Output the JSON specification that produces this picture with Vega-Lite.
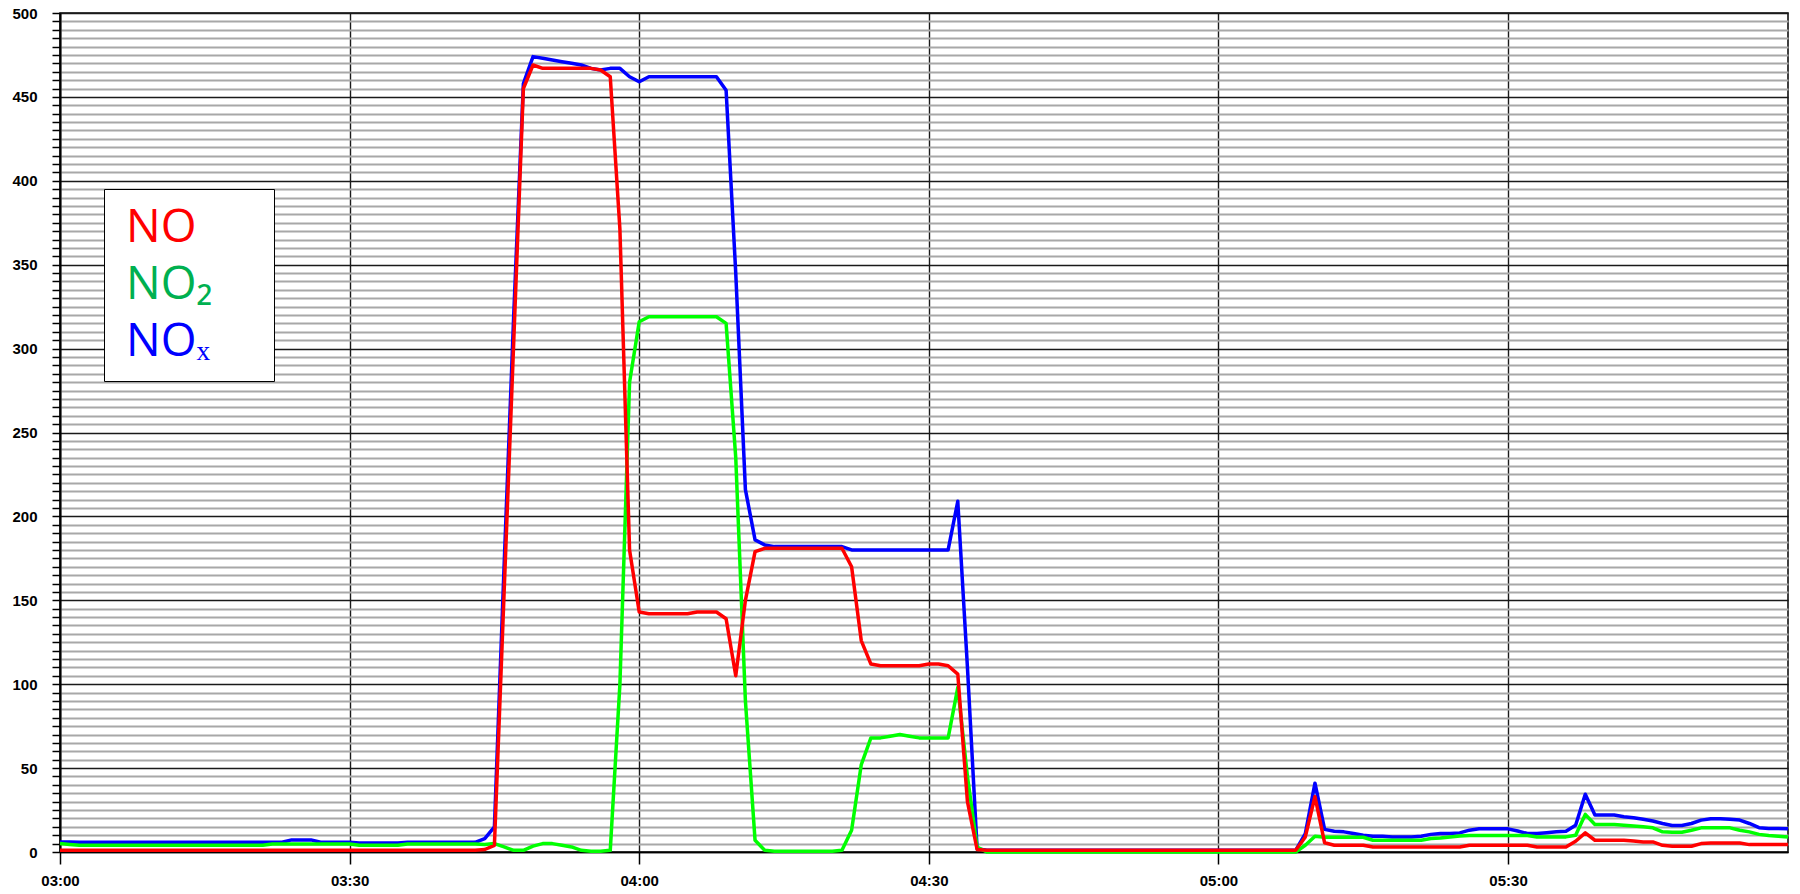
{
  "$schema": "https://vega.github.io/schema/vega-lite/v6.json",
  "width": 1728,
  "height": 839,
  "autosize": {"type": "none"},
  "padding": {"left": 60, "top": 13, "right": 12, "bottom": 42},
  "background": "#ffffff",
  "config": {"view": {"stroke": "#000000", "strokeWidth": 1.5}, "font": "Liberation Sans"},
  "data": {
    "values": [
      {"t":"03:00","NO":1,"NO2":5,"NOx":6},
      {"t":"03:01","NO":1,"NO2":4.5,"NOx":6},
      {"t":"03:02","NO":1,"NO2":4,"NOx":5.8},
      {"t":"03:03","NO":1,"NO2":4,"NOx":5.8},
      {"t":"03:04","NO":1,"NO2":4,"NOx":5.8},
      {"t":"03:05","NO":1,"NO2":4,"NOx":5.8},
      {"t":"03:06","NO":1,"NO2":4,"NOx":5.8},
      {"t":"03:07","NO":1,"NO2":4,"NOx":5.8},
      {"t":"03:08","NO":1,"NO2":4,"NOx":5.8},
      {"t":"03:09","NO":1,"NO2":4,"NOx":5.8},
      {"t":"03:10","NO":1,"NO2":4,"NOx":5.8},
      {"t":"03:11","NO":1,"NO2":4,"NOx":5.8},
      {"t":"03:12","NO":1,"NO2":4,"NOx":5.8},
      {"t":"03:13","NO":1,"NO2":4,"NOx":5.8},
      {"t":"03:14","NO":1,"NO2":4,"NOx":5.8},
      {"t":"03:15","NO":1,"NO2":4,"NOx":5.8},
      {"t":"03:16","NO":1,"NO2":4,"NOx":5.8},
      {"t":"03:17","NO":1,"NO2":4,"NOx":5.8},
      {"t":"03:18","NO":1,"NO2":4,"NOx":5.8},
      {"t":"03:19","NO":1,"NO2":4,"NOx":5.8},
      {"t":"03:20","NO":1,"NO2":4,"NOx":5.8},
      {"t":"03:21","NO":1,"NO2":4,"NOx":5.8},
      {"t":"03:22","NO":1,"NO2":4.8,"NOx":5.8},
      {"t":"03:23","NO":1,"NO2":4.8,"NOx":5.8},
      {"t":"03:24","NO":1,"NO2":4.8,"NOx":7.2},
      {"t":"03:25","NO":1,"NO2":4.8,"NOx":7.2},
      {"t":"03:26","NO":1,"NO2":4.8,"NOx":7.2},
      {"t":"03:27","NO":1,"NO2":4.8,"NOx":5.8},
      {"t":"03:28","NO":1,"NO2":4.8,"NOx":5.8},
      {"t":"03:29","NO":1,"NO2":4.8,"NOx":5.8},
      {"t":"03:30","NO":1,"NO2":4.8,"NOx":5.8},
      {"t":"03:31","NO":1,"NO2":4,"NOx":5.4},
      {"t":"03:32","NO":1,"NO2":4,"NOx":5.4},
      {"t":"03:33","NO":1,"NO2":4,"NOx":5.4},
      {"t":"03:34","NO":1,"NO2":4,"NOx":5.4},
      {"t":"03:35","NO":1,"NO2":4,"NOx":5.4},
      {"t":"03:36","NO":1,"NO2":4.8,"NOx":5.8},
      {"t":"03:37","NO":1,"NO2":4.8,"NOx":5.8},
      {"t":"03:38","NO":1,"NO2":4.8,"NOx":5.8},
      {"t":"03:39","NO":1,"NO2":4.8,"NOx":5.8},
      {"t":"03:40","NO":1,"NO2":4.8,"NOx":5.8},
      {"t":"03:41","NO":1,"NO2":4.8,"NOx":5.8},
      {"t":"03:42","NO":1,"NO2":4.8,"NOx":5.8},
      {"t":"03:43","NO":1,"NO2":4.8,"NOx":5.8},
      {"t":"03:44","NO":1.5,"NO2":4.5,"NOx":8},
      {"t":"03:45","NO":4,"NO2":5,"NOx":15},
      {"t":"03:46","NO":154,"NO2":3,"NOx":170},
      {"t":"03:47","NO":304,"NO2":1,"NOx":320},
      {"t":"03:48","NO":455,"NO2":1,"NOx":458},
      {"t":"03:49","NO":469,"NO2":3.5,"NOx":474},
      {"t":"03:50","NO":467,"NO2":5,"NOx":473},
      {"t":"03:51","NO":467,"NO2":5,"NOx":472},
      {"t":"03:52","NO":467,"NO2":4,"NOx":471},
      {"t":"03:53","NO":467,"NO2":3,"NOx":470},
      {"t":"03:54","NO":467,"NO2":1,"NOx":469},
      {"t":"03:55","NO":467,"NO2":0.5,"NOx":467},
      {"t":"03:56","NO":466,"NO2":0.5,"NOx":466},
      {"t":"03:57","NO":462,"NO2":1,"NOx":467},
      {"t":"03:58","NO":371,"NO2":100,"NOx":467},
      {"t":"03:59","NO":180,"NO2":280,"NOx":462},
      {"t":"04:00","NO":143,"NO2":316,"NOx":459},
      {"t":"04:01","NO":142,"NO2":319,"NOx":462},
      {"t":"04:02","NO":142,"NO2":319,"NOx":462},
      {"t":"04:03","NO":142,"NO2":319,"NOx":462},
      {"t":"04:04","NO":142,"NO2":319,"NOx":462},
      {"t":"04:05","NO":142,"NO2":319,"NOx":462},
      {"t":"04:06","NO":143,"NO2":319,"NOx":462},
      {"t":"04:07","NO":143,"NO2":319,"NOx":462},
      {"t":"04:08","NO":143,"NO2":319,"NOx":462},
      {"t":"04:09","NO":139,"NO2":315,"NOx":454},
      {"t":"04:10","NO":105,"NO2":235,"NOx":345},
      {"t":"04:11","NO":150,"NO2":90,"NOx":216},
      {"t":"04:12","NO":179,"NO2":7,"NOx":186},
      {"t":"04:13","NO":181,"NO2":1,"NOx":183},
      {"t":"04:14","NO":181,"NO2":0.5,"NOx":182},
      {"t":"04:15","NO":181,"NO2":0.5,"NOx":182},
      {"t":"04:16","NO":181,"NO2":0.5,"NOx":182},
      {"t":"04:17","NO":181,"NO2":0.5,"NOx":182},
      {"t":"04:18","NO":181,"NO2":0.5,"NOx":182},
      {"t":"04:19","NO":181,"NO2":0.5,"NOx":182},
      {"t":"04:20","NO":181,"NO2":0.5,"NOx":182},
      {"t":"04:21","NO":181,"NO2":1,"NOx":182},
      {"t":"04:22","NO":170,"NO2":13,"NOx":180},
      {"t":"04:23","NO":126,"NO2":52,"NOx":180},
      {"t":"04:24","NO":112,"NO2":68,"NOx":180},
      {"t":"04:25","NO":111,"NO2":68,"NOx":180},
      {"t":"04:26","NO":111,"NO2":69,"NOx":180},
      {"t":"04:27","NO":111,"NO2":70,"NOx":180},
      {"t":"04:28","NO":111,"NO2":69,"NOx":180},
      {"t":"04:29","NO":111,"NO2":68,"NOx":180},
      {"t":"04:30","NO":112,"NO2":68,"NOx":180},
      {"t":"04:31","NO":112,"NO2":68,"NOx":180},
      {"t":"04:32","NO":111,"NO2":68,"NOx":180},
      {"t":"04:33","NO":106,"NO2":98,"NOx":209},
      {"t":"04:34","NO":30,"NO2":45,"NOx":110},
      {"t":"04:35","NO":1.5,"NO2":3,"NOx":2},
      {"t":"04:36","NO":1,"NO2":0,"NOx":1},
      {"t":"04:37","NO":1,"NO2":0,"NOx":1},
      {"t":"04:38","NO":1,"NO2":0,"NOx":1},
      {"t":"04:39","NO":1,"NO2":0,"NOx":1},
      {"t":"04:40","NO":1,"NO2":0,"NOx":1},
      {"t":"04:41","NO":1,"NO2":0,"NOx":1},
      {"t":"04:42","NO":1,"NO2":0,"NOx":1},
      {"t":"04:43","NO":1,"NO2":0,"NOx":1},
      {"t":"04:44","NO":1,"NO2":0,"NOx":1},
      {"t":"04:45","NO":1,"NO2":0,"NOx":1},
      {"t":"04:46","NO":1,"NO2":0,"NOx":1},
      {"t":"04:47","NO":1,"NO2":0,"NOx":1},
      {"t":"04:48","NO":1,"NO2":0,"NOx":1},
      {"t":"04:49","NO":1,"NO2":0,"NOx":1},
      {"t":"04:50","NO":1,"NO2":0,"NOx":1},
      {"t":"04:51","NO":1,"NO2":0,"NOx":1},
      {"t":"04:52","NO":1,"NO2":0,"NOx":1},
      {"t":"04:53","NO":1,"NO2":0,"NOx":1},
      {"t":"04:54","NO":1,"NO2":0,"NOx":1},
      {"t":"04:55","NO":1,"NO2":0,"NOx":1},
      {"t":"04:56","NO":1,"NO2":0,"NOx":1},
      {"t":"04:57","NO":1,"NO2":0,"NOx":1},
      {"t":"04:58","NO":1,"NO2":0,"NOx":1},
      {"t":"04:59","NO":1,"NO2":0,"NOx":1},
      {"t":"05:00","NO":1,"NO2":0,"NOx":1},
      {"t":"05:01","NO":1,"NO2":0,"NOx":1},
      {"t":"05:02","NO":1,"NO2":0,"NOx":1},
      {"t":"05:03","NO":1,"NO2":0,"NOx":1},
      {"t":"05:04","NO":1,"NO2":0,"NOx":1},
      {"t":"05:05","NO":1,"NO2":0,"NOx":1},
      {"t":"05:06","NO":1,"NO2":0,"NOx":1},
      {"t":"05:07","NO":1,"NO2":0,"NOx":1},
      {"t":"05:08","NO":1,"NO2":0,"NOx":1},
      {"t":"05:09","NO":9,"NO2":4,"NOx":11},
      {"t":"05:10","NO":33,"NO2":9.4,"NOx":41},
      {"t":"05:11","NO":5.5,"NO2":8.8,"NOx":13.5},
      {"t":"05:12","NO":4,"NO2":8.8,"NOx":12.4},
      {"t":"05:13","NO":4,"NO2":8.8,"NOx":12},
      {"t":"05:14","NO":4,"NO2":8.8,"NOx":11},
      {"t":"05:15","NO":4,"NO2":8.8,"NOx":10},
      {"t":"05:16","NO":3,"NO2":7,"NOx":9.4},
      {"t":"05:17","NO":3,"NO2":7,"NOx":9.4},
      {"t":"05:18","NO":3,"NO2":7,"NOx":9},
      {"t":"05:19","NO":3,"NO2":7,"NOx":9},
      {"t":"05:20","NO":3,"NO2":7,"NOx":9},
      {"t":"05:21","NO":3,"NO2":7,"NOx":9.4},
      {"t":"05:22","NO":3,"NO2":8,"NOx":10.5},
      {"t":"05:23","NO":3,"NO2":8.4,"NOx":11},
      {"t":"05:24","NO":3,"NO2":9,"NOx":11},
      {"t":"05:25","NO":3,"NO2":9.5,"NOx":11.4},
      {"t":"05:26","NO":4,"NO2":9.8,"NOx":13},
      {"t":"05:27","NO":4,"NO2":9.8,"NOx":13.8},
      {"t":"05:28","NO":4,"NO2":9.8,"NOx":13.8},
      {"t":"05:29","NO":4,"NO2":9.8,"NOx":13.8},
      {"t":"05:30","NO":4,"NO2":9.8,"NOx":13.8},
      {"t":"05:31","NO":4,"NO2":9.8,"NOx":12.5},
      {"t":"05:32","NO":4,"NO2":9.8,"NOx":11},
      {"t":"05:33","NO":3,"NO2":9,"NOx":11},
      {"t":"05:34","NO":3,"NO2":9,"NOx":11.5},
      {"t":"05:35","NO":3,"NO2":9,"NOx":12},
      {"t":"05:36","NO":3,"NO2":9,"NOx":12.4},
      {"t":"05:37","NO":6.4,"NO2":10,"NOx":16},
      {"t":"05:38","NO":11.4,"NO2":22.4,"NOx":34.4},
      {"t":"05:39","NO":7,"NO2":16.4,"NOx":22},
      {"t":"05:40","NO":7,"NO2":16.4,"NOx":22},
      {"t":"05:41","NO":7,"NO2":16.4,"NOx":22},
      {"t":"05:42","NO":7,"NO2":16,"NOx":21},
      {"t":"05:43","NO":6.5,"NO2":15.5,"NOx":20.4},
      {"t":"05:44","NO":6,"NO2":15,"NOx":19.5},
      {"t":"05:45","NO":6,"NO2":14.4,"NOx":18.5},
      {"t":"05:46","NO":4,"NO2":12,"NOx":17},
      {"t":"05:47","NO":3.4,"NO2":11.8,"NOx":15.8},
      {"t":"05:48","NO":3.4,"NO2":11.8,"NOx":15.8},
      {"t":"05:49","NO":3.4,"NO2":13,"NOx":17},
      {"t":"05:50","NO":5,"NO2":14.4,"NOx":19},
      {"t":"05:51","NO":5.4,"NO2":14.4,"NOx":19.8},
      {"t":"05:52","NO":5.4,"NO2":14.4,"NOx":19.8},
      {"t":"05:53","NO":5.4,"NO2":14.4,"NOx":19.5},
      {"t":"05:54","NO":5.4,"NO2":13,"NOx":19},
      {"t":"05:55","NO":4.4,"NO2":12,"NOx":17},
      {"t":"05:56","NO":4.4,"NO2":10.5,"NOx":14.5},
      {"t":"05:57","NO":4.4,"NO2":9.8,"NOx":14},
      {"t":"05:58","NO":4.4,"NO2":9.4,"NOx":14},
      {"t":"05:59","NO":4.4,"NO2":9,"NOx":13.8}
    ]
  },
  "transform": [{"fold": ["NOx", "NO2", "NO"], "as": ["series", "value"]}],
  "encoding": {
    "x": {
      "field": "t",
      "type": "ordinal",
      "scale": {"type": "point", "padding": 0},
      "axis": {
        "title": null,
        "values": ["03:00", "03:30", "04:00", "04:30", "05:00", "05:30"],
        "labelAngle": 0,
        "grid": true,
        "gridColor": "#1a1a1a",
        "gridWidth": 1.4,
        "tickSize": 12,
        "tickColor": "#000000",
        "tickWidth": 1.5,
        "domainColor": "#000000",
        "domainWidth": 1.5,
        "labelFont": "Liberation Sans",
        "labelFontWeight": "bold",
        "labelFontSize": 15,
        "labelColor": "#000000",
        "labelPadding": 9,
        "labelOverlap": false
      }
    },
    "y": {
      "field": "value",
      "type": "quantitative",
      "scale": {"domain": [0, 500], "nice": false},
      "axis": {
        "orient": "left",
        "title": null,
        "values": [0,5,10,15,20,25,30,35,40,45,50,55,60,65,70,75,80,85,90,95,100,105,110,115,120,125,130,135,140,145,150,155,160,165,170,175,180,185,190,195,200,205,210,215,220,225,230,235,240,245,250,255,260,265,270,275,280,285,290,295,300,305,310,315,320,325,330,335,340,345,350,355,360,365,370,375,380,385,390,395,400,405,410,415,420,425,430,435,440,445,450,455,460,465,470,475,480,485,490,495,500],
        "labelExpr": "datum.value % 50 === 0 ? datum.label : ''",
        "labelFont": "Liberation Sans",
        "labelFontWeight": "bold",
        "labelFontSize": 15,
        "labelColor": "#000000",
        "labelPadding": 15,
        "labelOverlap": false,
        "tickSize": 8,
        "tickColor": "#000000",
        "tickWidth": 1.5,
        "domainColor": "#000000",
        "domainWidth": 2,
        "grid": true,
        "gridColor": {"condition": {"test": "datum.value % 50 === 0", "value": "#1a1a1a"}, "value": "#a8a8a8"},
        "gridWidth": {"condition": {"test": "datum.value % 50 === 0", "value": 1.4}, "value": 2}
      }
    },
    "color": {
      "field": "series",
      "type": "nominal",
      "scale": {"domain": ["NO", "NO2", "NOx"], "range": ["#ff0000", "#00ff00", "#0000ff"]},
      "legend": {
        "orient": "none",
        "legendX": 44,
        "legendY": 176,
        "title": "\u00a0",
        "titleOrient": "right",
        "titlePadding": 46,
        "titleFontSize": 8,
        "labelExpr": "datum.value === 'NO2' ? 'NO₂' : datum.value === 'NOx' ? 'NOₓ' : datum.value",
        "labelFont": "Open Sans",
        "labelFontSize": 46,
        "labelLimit": 400,
        "labelColor": {"expr": "datum.value === 'NO' ? '#ff0000' : datum.value === 'NO2' ? '#00b050' : '#0000ff'"},
        "labelOffset": -40,
        "symbolOpacity": 0,
        "symbolSize": 4,
        "rowPadding": 11,
        "padding": 16,
        "strokeColor": "#000000",
        "fillColor": "#ffffff"
      }
    }
  },
  "layer": [
    {"transform": [{"filter": "datum.series === 'NOx'"}], "mark": {"type": "line", "strokeWidth": 3.5, "strokeJoin": "round"}},
    {"transform": [{"filter": "datum.series === 'NO2'"}], "mark": {"type": "line", "strokeWidth": 3.5, "strokeJoin": "round"}},
    {"transform": [{"filter": "datum.series === 'NO'"}], "mark": {"type": "line", "strokeWidth": 3.5, "strokeJoin": "round"}}
  ]
}
